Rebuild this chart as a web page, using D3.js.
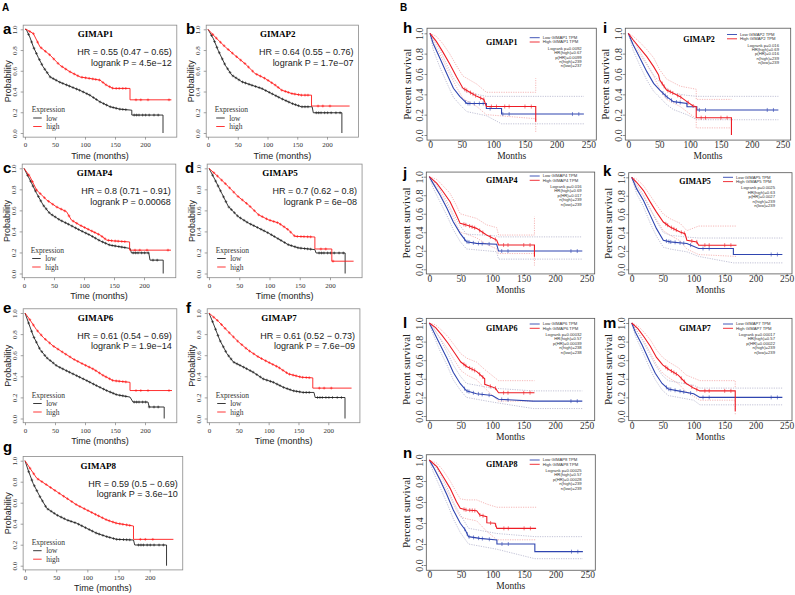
<!DOCTYPE html>
<html><head><meta charset="utf-8">
<script src="https://cdn.jsdelivr.net/npm/d3@7"></script>
<style>body{margin:0;background:#fff}</style>
</head><body>
<svg id="c" width="795" height="595"></svg>
<script>
// ================= DATA =================
// KM-plotter panels (a-g)
const kmLetters = ["a","b","c","d","e","f","g"];
const kmGenes = ["GIMAP1","GIMAP2","GIMAP4","GIMAP5","GIMAP6","GIMAP7","GIMAP8"];
const kmHR = ["HR = 0.55 (0.47 \u2212 0.65)","HR = 0.64 (0.55 \u2212 0.76)","HR = 0.8 (0.71 \u2212 0.91)","HR = 0.7 (0.62 \u2212 0.8)","HR = 0.61 (0.54 \u2212 0.69)","HR = 0.61 (0.52 \u2212 0.73)","HR = 0.59 (0.5 \u2212 0.69)"];
const kmLogrank = ["logrank P = 4.5e\u221212","logrank P = 1.7e\u221207","logrank P = 0.00068","logrank P = 6e\u221208","logrank P = 1.9e\u221214","logrank P = 7.6e\u221209","logrank P = 3.6e\u221210"];
const kmXTicks = [0,50,100,150,200];
const kmYTicks = [0,0.2,0.4,0.6,0.8,1.0];

// [months, survival]
const aHigh = [[0,1],[2,1],[14,0.958],[25,0.83],[42,0.75],[58,0.654],[75,0.59],[92,0.54],[108,0.526],[125,0.51],[136,0.46],[147,0.43],[175,0.43],[175,0.32],[244,0.32]];
const aLow  = [[0,1],[2,1],[8,0.926],[14,0.83],[22,0.73],[30,0.64],[42,0.54],[58,0.49],[75,0.45],[92,0.41],[108,0.365],[125,0.30],[142,0.253],[158,0.23],[178,0.22],[178,0.173],[230,0.173],[230,0]];
const bHigh = [[0,1],[12,0.926],[29,0.83],[45,0.75],[62,0.67],[79,0.574],[96,0.526],[113,0.462],[124,0.413],[141,0.38],[157,0.365],[174,0.365],[174,0.26],[238,0.26]];
const bLow  = [[0,1],[9,0.91],[17,0.798],[29,0.654],[40,0.558],[57,0.494],[73,0.462],[90,0.43],[107,0.38],[124,0.33],[141,0.285],[157,0.253],[175,0.253],[177,0.195],[225,0.195],[225,0]];
const cHigh = [[0,1],[10,0.92],[21,0.793],[38,0.698],[54,0.634],[71,0.587],[79,0.508],[93,0.46],[110,0.412],[127,0.365],[138,0.317],[149,0.31],[176,0.30],[176,0.222],[245,0.222]];
const cLow  = [[0,1],[10,0.889],[21,0.762],[32,0.65],[43,0.571],[60,0.508],[77,0.46],[93,0.412],[110,0.365],[127,0.31],[143,0.27],[160,0.254],[177,0.238],[179,0.196],[208,0.196],[210,0.127],[232,0.127],[232,0]];
const dHigh = [[0,1],[15,0.921],[32,0.826],[48,0.732],[65,0.653],[82,0.558],[98,0.511],[115,0.48],[131,0.416],[142,0.353],[175,0.347],[175,0.233],[203,0.233],[203,0.117],[239,0.117]];
const dLow  = [[0,1],[10,0.89],[21,0.763],[32,0.637],[48,0.542],[65,0.48],[82,0.432],[98,0.385],[115,0.328],[131,0.274],[148,0.243],[175,0.227],[177,0.195],[225,0.195],[225,0]];
const eHigh = [[0,1],[8,0.937],[19,0.843],[31,0.765],[47,0.687],[64,0.624],[81,0.562],[97,0.515],[114,0.468],[131,0.406],[147,0.359],[175,0.343],[175,0.265],[245,0.265]];
const eLow  = [[0,1],[6,0.905],[14,0.78],[25,0.655],[36,0.577],[53,0.499],[69,0.453],[86,0.406],[103,0.359],[119,0.312],[136,0.265],[153,0.225],[175,0.203],[180,0.156],[205,0.156],[207,0.109],[232,0.109],[232,0]];
const fHigh = [[0,1],[16,0.92],[32,0.824],[49,0.728],[66,0.647],[83,0.583],[99,0.535],[116,0.487],[133,0.423],[155,0.391],[174,0.385],[174,0.288],[239,0.288]];
const fLow  = [[0,1],[7,0.904],[18,0.744],[30,0.615],[41,0.535],[58,0.487],[74,0.439],[91,0.375],[108,0.343],[125,0.295],[141,0.263],[158,0.247],[176,0.247],[178,0.199],[228,0.199],[228,0]];
const gHigh = [[0,1],[8,0.928],[19,0.832],[35,0.769],[51,0.705],[67,0.642],[83,0.579],[99,0.531],[115,0.483],[131,0.436],[147,0.404],[174,0.378],[174,0.251],[238,0.251]];
const gLow  = [[0,1],[5,0.911],[13,0.784],[24,0.657],[35,0.546],[51,0.483],[67,0.436],[83,0.404],[99,0.356],[115,0.309],[131,0.277],[147,0.251],[174,0.245],[176,0.197],[227,0.197],[227,0]];
const kmHighCurves = [aHigh,bHigh,cHigh,dHigh,eHigh,fHigh,gHigh];
const kmLowCurves  = [aLow,bLow,cLow,dLow,eLow,fLow,gLow];
const kmCensorHigh = [8,14,21,27,34,41,48,55,62,68,75,82,88,95,101,107,113,118,124,130,135,141,146,152,157,163,168,185,193,205,240];
const kmCensorLow  = [6,11,15,19,24,28,33,37,42,47,52,58,63,69,74,80,86,91,97,103,108,114,119,125,131,136,142,147,152,158,163,168,182,186,190,196,201,207,215,222];

// GEPIA panels (h-n)
const gpLetters = ["h","i","j","k","l","m","n"];
const gpGenes = ["GIMAP1","GIMAP2","GIMAP4","GIMAP5","GIMAP6","GIMAP7","GIMAP8"];
const gpLogrank = ["0.0092","0.016","0.016","0.0025","0.00032","0.00017","0.00025"];
const gpHR = ["0.67","0.69","0.69","0.63","0.57","0.57","0.57"];
const gpPHR = ["0.0099","0.016","0.017","0.0027","0.00039","0.00022","0.00028"];
const gpNHigh = ["239","239","239","239","238","239","239"];
const gpNLow = ["237","239","239","239","238","239","239"];
const gpXTicks = [0,50,100,150,200,250];
const gpYTicks = [0,0.2,0.4,0.6,0.8,1.0];

const hHigh = [[0,1],[10,0.92],[20,0.82],[31,0.70],[42,0.57],[52,0.46],[63,0.42],[74,0.38],[85,0.35],[89,0.28],[167,0.28],[167,0.13]];
const hLow  = [[0,1],[5,0.9],[16,0.75],[26,0.61],[37,0.46],[47,0.38],[55,0.33],[58,0.31],[89,0.31],[89,0.26],[113,0.26],[113,0.206],[243,0.206]];
const hHighU = [[0,1],[10,0.97],[20,0.9],[31,0.8],[42,0.68],[52,0.58],[63,0.54],[74,0.5],[89,0.42],[167,0.42],[167,0.56]];
const hHighL = [[0,1],[10,0.86],[20,0.74],[31,0.6],[42,0.47],[52,0.36],[63,0.32],[74,0.28],[89,0.2],[167,0.16],[167,0.03]];
const hLowU = [[0,1],[5,0.95],[16,0.83],[26,0.7],[37,0.56],[47,0.48],[58,0.42],[89,0.38],[113,0.38],[243,0.38]];
const hLowL = [[0,1],[5,0.84],[16,0.66],[26,0.52],[37,0.37],[47,0.3],[58,0.23],[89,0.19],[113,0.11],[243,0.11]];

const iHigh = [[0,1],[8,0.934],[19,0.852],[30,0.77],[41,0.672],[49,0.59],[51,0.541],[62,0.442],[73,0.41],[84,0.377],[95,0.328],[105,0.285],[110,0.278],[110,0.17],[167,0.17],[167,0]];
const iLow  = [[0,1],[8,0.885],[19,0.754],[30,0.623],[41,0.508],[51,0.442],[62,0.377],[73,0.328],[95,0.311],[95,0.278],[111,0.278],[111,0.246],[243,0.246]];
const iHighU = [[0,1],[8,0.97],[19,0.91],[30,0.84],[41,0.76],[51,0.64],[62,0.55],[84,0.48],[110,0.45],[110,0.35],[167,0.35]];
const iHighL = [[0,1],[8,0.89],[19,0.79],[30,0.69],[41,0.58],[51,0.45],[62,0.35],[84,0.28],[110,0.16],[110,0.07],[167,0.07]];
const iLowU = [[0,1],[8,0.93],[19,0.82],[30,0.7],[41,0.59],[51,0.52],[62,0.46],[73,0.41],[95,0.39],[111,0.38],[243,0.38]];
const iLowL = [[0,1],[8,0.83],[19,0.68],[30,0.54],[41,0.43],[51,0.37],[62,0.3],[73,0.25],[95,0.2],[111,0.15],[243,0.15]];

const jHigh = [[0,1],[12,0.928],[22,0.838],[33,0.73],[43,0.586],[49,0.496],[59,0.478],[75,0.442],[91,0.37],[107,0.316],[110,0.262],[167,0.262],[167,0.136]];
const jLow  = [[0,1],[6,0.928],[17,0.802],[28,0.658],[38,0.514],[49,0.388],[59,0.298],[75,0.28],[107,0.27],[110,0.197],[243,0.197]];
const jHighU = [[0,1],[12,0.97],[22,0.9],[33,0.82],[43,0.69],[49,0.6],[59,0.58],[75,0.55],[91,0.48],[107,0.45],[110,0.37],[167,0.37],[167,0.57]];
const jHighL = [[0,1],[12,0.88],[22,0.77],[33,0.64],[43,0.49],[49,0.4],[59,0.38],[75,0.34],[91,0.27],[107,0.22],[110,0.17],[167,0.17],[167,0.04]];
const jLowU = [[0,1],[6,0.96],[17,0.86],[28,0.73],[38,0.6],[49,0.47],[59,0.38],[107,0.36],[110,0.35],[243,0.35]];
const jLowL = [[0,1],[6,0.88],[17,0.73],[28,0.58],[38,0.43],[49,0.3],[59,0.22],[107,0.19],[110,0.11],[243,0.11]];

const kHigh = [[0,1],[8,0.946],[19,0.856],[30,0.73],[40,0.622],[51,0.514],[62,0.46],[78,0.406],[86,0.388],[89,0.316],[105,0.298],[108,0.262],[169,0.262]];
const kLow  = [[0,1],[8,0.874],[19,0.748],[30,0.586],[40,0.442],[51,0.316],[62,0.298],[89,0.28],[108,0.226],[164,0.226],[164,0.161],[243,0.161]];
const kHighU = [[0,1],[8,0.98],[19,0.91],[30,0.8],[40,0.7],[51,0.6],[62,0.55],[78,0.5],[89,0.42],[108,0.47],[169,0.47]];
const kHighL = [[0,1],[8,0.9],[19,0.79],[30,0.65],[40,0.54],[51,0.42],[62,0.37],[78,0.31],[89,0.22],[108,0.16],[169,0.14]];
const kLowU = [[0,1],[8,0.92],[19,0.81],[30,0.66],[40,0.52],[51,0.4],[62,0.37],[89,0.35],[108,0.34],[243,0.34]];
const kLowL = [[0,1],[8,0.82],[19,0.68],[30,0.5],[40,0.36],[51,0.24],[62,0.22],[89,0.19],[108,0.14],[164,0.07],[243,0.07]];

const lHigh = [[0,1],[10,0.95],[20,0.87],[30,0.78],[40,0.68],[50,0.58],[60,0.53],[75,0.48],[88,0.4],[88,0.34],[105,0.3],[110,0.25],[167,0.25]];
const lLow  = [[0,1],[6,0.92],[17,0.77],[28,0.62],[38,0.47],[49,0.35],[59,0.27],[75,0.24],[100,0.22],[110,0.18],[165,0.16],[243,0.16]];
const lHighU = [[0,1],[10,0.98],[20,0.92],[30,0.85],[40,0.76],[50,0.67],[60,0.62],[75,0.58],[88,0.5],[110,0.38],[167,0.38]];
const lHighL = [[0,1],[10,0.91],[20,0.81],[30,0.71],[40,0.6],[50,0.49],[60,0.44],[75,0.39],[88,0.3],[110,0.16],[167,0.16]];
const lLowU = [[0,1],[6,0.96],[17,0.83],[28,0.69],[38,0.55],[49,0.43],[59,0.35],[100,0.3],[165,0.27],[243,0.27]];
const lLowL = [[0,1],[6,0.88],[17,0.7],[28,0.55],[38,0.39],[49,0.28],[59,0.2],[100,0.15],[165,0.08],[243,0.08]];

const mHigh = [[0,1],[10,0.94],[20,0.85],[30,0.75],[40,0.63],[50,0.55],[60,0.5],[75,0.44],[88,0.35],[100,0.3],[110,0.27],[167,0.27],[167,0.05]];
const mLow  = [[0,1],[6,0.9],[17,0.76],[28,0.6],[38,0.46],[49,0.35],[59,0.29],[75,0.27],[100,0.24],[110,0.2],[243,0.2]];
const mHighU = [[0,1],[10,0.97],[20,0.9],[30,0.82],[40,0.71],[50,0.63],[60,0.58],[75,0.52],[88,0.44],[110,0.38],[167,0.38],[167,0.3]];
const mHighL = [[0,1],[10,0.9],[20,0.8],[30,0.68],[40,0.55],[50,0.46],[60,0.41],[75,0.35],[88,0.26],[110,0.17],[167,0.17],[167,0.01]];
const mLowU = [[0,1],[6,0.94],[17,0.82],[28,0.68],[38,0.55],[49,0.44],[59,0.38],[100,0.33],[110,0.3],[243,0.3]];
const mLowL = [[0,1],[6,0.86],[17,0.7],[28,0.53],[38,0.39],[49,0.28],[59,0.22],[100,0.17],[110,0.12],[243,0.12]];

const nHigh = [[0,1],[12,0.937],[22,0.841],[33,0.73],[43,0.603],[49,0.54],[59,0.524],[75,0.517],[80,0.476],[91,0.46],[91,0.403],[104,0.397],[107,0.349],[169,0.349]];
const nLow  = [[0,1],[6,0.937],[17,0.81],[28,0.667],[38,0.524],[49,0.397],[57,0.333],[62,0.27],[80,0.254],[107,0.238],[107,0.2],[167,0.2],[167,0.127],[243,0.127]];
const nHighU = [[0,1],[12,0.97],[22,0.9],[33,0.8],[43,0.69],[49,0.63],[59,0.62],[75,0.62],[91,0.58],[107,0.55],[169,0.55]];
const nHighL = [[0,1],[12,0.88],[22,0.77],[33,0.65],[43,0.52],[49,0.46],[59,0.44],[75,0.42],[91,0.32],[107,0.24],[169,0.24]];
const nLowU = [[0,1],[6,0.97],[17,0.87],[28,0.74],[38,0.6],[49,0.48],[62,0.35],[107,0.3],[167,0.27],[243,0.27]];
const nLowL = [[0,1],[6,0.89],[17,0.74],[28,0.59],[38,0.44],[49,0.31],[62,0.2],[107,0.15],[167,0.06],[243,0.06]];

const gpHighCurves = [hHigh,iHigh,jHigh,kHigh,lHigh,mHigh,nHigh];
const gpLowCurves  = [hLow,iLow,jLow,kLow,lLow,mLow,nLow];
const gpHighUpper = [hHighU,iHighU,jHighU,kHighU,lHighU,mHighU,nHighU];
const gpHighLower = [hHighL,iHighL,jHighL,kHighL,lHighL,mHighL,nHighL];
const gpLowUpper  = [hLowU,iLowU,jLowU,kLowU,lLowU,mLowU,nLowU];
const gpLowLower  = [hLowL,iLowL,jLowL,kLowL,lLowL,mLowL,nLowL];
const gpCensorHigh = [55,58,64,68,72,80,85,97,105,118,125,150,160];
const gpCensorLow  = [56,60,63,70,78,84,95,115,125,225,235,242];

// ================= LAYOUT =================
const kmLayout = [
  {x0:25, x200:145, y1:29.3, y0:133, lx:3, ly:34},
  {x0:208, x200:327, y1:29.3, y0:133, lx:186, ly:34},
  {x0:24, x200:144, y1:168.3, y0:273.5, lx:3, ly:173},
  {x0:209, x200:330, y1:168.3, y0:273.5, lx:185, ly:173},
  {x0:25, x200:145, y1:313, y0:418.5, lx:3, ly:313},
  {x0:209, x200:328.3, y1:313, y0:418.5, lx:186, ly:313},
  {x0:25, x200:149.7, y1:460.7, y0:565.7, lx:3, ly:452}
];
const gpLayout = [
  {x0:430, x250:588.3, y1:33.3, y0:135, lx:403, ly:33, legR:581.7, legY:37.7},
  {x0:628.3, x250:782.7, y1:33.3, y0:135, lx:603, ly:33, legR:779, legY:34.5},
  {x0:429.3, x250:586.7, y1:176.7, y0:269.3, lx:403, ly:178, legR:581.7, legY:176},
  {x0:631.7, x250:786.7, y1:177.3, y0:269.3, lx:603, ly:176, legR:775, legY:177.3},
  {x0:429.3, x250:586.7, y1:323, y0:416, lx:403, ly:328, legR:581.7, legY:324},
  {x0:631.7, x250:786.7, y1:323, y0:416, lx:603, ly:328, legR:775, legY:324},
  {x0:429.3, x250:587.3, y1:460, y0:565, lx:403, ly:458, legR:581.7, legY:460}
];

const SANS = "'Liberation Sans', Arial, sans-serif";
const SERIF = "'Liberation Serif', 'Times New Roman', serif";
const svg = d3.select("#c");

function survAt(curve, t){
  for (let i=0;i<curve.length-1;i++){
    const a=curve[i], b=curve[i+1];
    if (t>=a[0] && t<=b[0] && b[0]>a[0]) return a[1]+(b[1]-a[1])*(t-a[0])/(b[0]-a[0]);
  }
  return curve[curve.length-1][1];
}

svg.append("text").attr("x",2).attr("y",11).text("A").attr("font-family",SANS).attr("font-weight","bold").attr("font-size",10);
svg.append("text").attr("x",400).attr("y",11).text("B").attr("font-family",SANS).attr("font-weight","bold").attr("font-size",10);

// ---------- KM plotter panels ----------
kmLayout.forEach((L,i)=>{
  const x = d3.scaleLinear().domain([0,200]).range([L.x0,L.x200]);
  const y = d3.scaleLinear().domain([0,1]).range([L.y0,L.y1]);
  const g = svg.append("g");
  const bl=x(-3), br=x(253), bt=y(1.04), bb=y(-0.04);
  g.append("rect").attr("x",bl).attr("y",bt).attr("width",br-bl).attr("height",bb-bt)
    .attr("fill","none").attr("stroke","#8a8a8a").attr("stroke-width",0.8);
  const ya = g.append("g").attr("transform",`translate(${bl},0)`)
    .call(d3.axisLeft(y).tickValues(kmYTicks).tickSize(2.5).tickFormat(d3.format(".1f")));
  ya.select(".domain").remove();
  ya.selectAll("line").attr("stroke","#666").attr("stroke-width",0.6);
  ya.selectAll("text").attr("x",null).attr("dy",null).attr("text-anchor","middle")
    .attr("transform",`translate(${-8.5+2.4},0) rotate(-90)`)
    .attr("font-family",SERIF).attr("font-size",7).attr("fill","#333");
  const xa = g.append("g").attr("transform",`translate(0,${bb})`)
    .call(d3.axisBottom(x).tickValues(kmXTicks).tickSize(2.5).tickFormat(d3.format("d")));
  xa.select(".domain").remove();
  xa.selectAll("line").attr("stroke","#666").attr("stroke-width",0.6);
  xa.selectAll("text").attr("y",5).attr("dy","0.71em").attr("font-family",SERIF).attr("font-size",7).attr("fill","#333");
  g.append("text").attr("transform",`translate(${bl-12.5},${(bt+bb)/2}) rotate(-90)`).attr("text-anchor","middle")
    .attr("font-family",SANS).attr("font-size",9).attr("fill","#222").text("Probability");
  g.append("text").attr("x",(bl+br)/2).attr("y",bb+21.5).attr("text-anchor","middle")
    .attr("font-family",SANS).attr("font-size",9).attr("fill","#222").text("Time (months)");
  g.append("text").attr("x",bl+(br-bl)*0.47).attr("y",L.y1+8).attr("text-anchor","middle")
    .attr("font-family",SERIF).attr("font-weight","bold").attr("font-size",9).text(kmGenes[i]);
  g.append("text").attr("x",br-5).attr("y",L.y1+26).attr("text-anchor","end")
    .attr("font-family",SANS).attr("font-size",9).attr("fill","#222").text(kmHR[i]);
  g.append("text").attr("x",br-5).attr("y",L.y1+36.3).attr("text-anchor","end")
    .attr("font-family",SANS).attr("font-size",9).attr("fill","#222").text(kmLogrank[i]);
  // legend
  g.append("text").attr("x",bl+8.5).attr("y",L.y0-21).attr("font-family",SERIF).attr("font-size",7.5).attr("fill","#333").text("Expression");
  [["low","#222",-15],["high","#ff2020",-6.5]].forEach(([lab,col,dy])=>{
    g.append("line").attr("x1",bl+10).attr("x2",bl+18.5).attr("y1",L.y0+dy).attr("y2",L.y0+dy).attr("stroke",col).attr("stroke-width",0.9);
    g.append("text").attr("x",bl+23).attr("y",L.y0+dy+2.5).attr("font-family",SERIF).attr("font-size",7.5).attr("fill","#333").text(lab);
  });
  g.append("text").attr("x",L.lx).attr("y",L.ly).attr("font-family",SANS).attr("font-weight","bold").attr("font-size",15).text(kmLetters[i]);
  const line = d3.line().x(d=>x(d[0])).y(d=>y(d[1]));
  [[kmLowCurves[i],"#222",kmCensorLow],[kmHighCurves[i],"#ff1a1a",kmCensorHigh]].forEach(([cv,col,cens])=>{
    g.append("path").attr("d",line(cv)).attr("fill","none").attr("stroke",col).attr("stroke-width",0.9);
    const tEnd = d3.max(cv,d=>d[0]);
    const marks = cens.filter(t=>t<tEnd-1);
    g.append("path").attr("d",marks.map(t=>{const px=x(t),py=y(survAt(cv,t));return `M${px-1.4},${py}h2.8M${px},${py-1.4}v2.8`;}).join(""))
      .attr("stroke",col).attr("stroke-width",0.6).attr("fill","none");
  });
});

// ---------- GEPIA panels ----------
gpLayout.forEach((L,i)=>{
  const x = d3.scaleLinear().domain([0,250]).range([L.x0,L.x250]);
  const y = d3.scaleLinear().domain([0,1]).range([L.y0,L.y1]);
  const g = svg.append("g");
  const h = L.y0-L.y1;
  const bl=x(0)-3, br=Math.min(x(250)+8,792), bt=L.y1-0.05*h, bb=L.y0+0.05*h;
  g.append("rect").attr("x",bl).attr("y",bt).attr("width",br-bl).attr("height",bb-bt)
    .attr("fill","none").attr("stroke","#555").attr("stroke-width",0.8);
  const ya = g.append("g").attr("transform",`translate(${bl},0)`)
    .call(d3.axisLeft(y).tickValues(gpYTicks).tickSize(2.5).tickFormat(d3.format(".1f")));
  ya.select(".domain").remove();
  ya.selectAll("line").attr("stroke","#444").attr("stroke-width",0.6);
  ya.selectAll("text").attr("x",null).attr("dy",null).attr("text-anchor","middle")
    .attr("transform",`translate(${-7+3.4},0) rotate(-90)`)
    .attr("font-family",SERIF).attr("font-size",10).attr("fill","#333");
  const xa = g.append("g").attr("transform",`translate(0,${bb})`)
    .call(d3.axisBottom(x).tickValues(gpXTicks).tickSize(2.5).tickFormat(d3.format("d")));
  xa.select(".domain").remove();
  xa.selectAll("line").attr("stroke","#444").attr("stroke-width",0.6);
  xa.selectAll("text").attr("y",1.5).attr("dy","0.71em").attr("font-family",SERIF).attr("font-size",9.5).attr("fill","#333");
  g.append("text").attr("transform",`translate(${bl-16.5},${(bt+bb)/2}) rotate(-90)`).attr("text-anchor","middle")
    .attr("font-family",SERIF).attr("font-size",11).attr("fill","#222").text("Percent survival");
  g.append("text").attr("x",(bl+br)/2).attr("y",bb+19).attr("text-anchor","middle")
    .attr("font-family",SERIF).attr("font-size",9.5).attr("fill","#222").text("Months");
  g.append("text").attr("x",L.lx).attr("y",L.ly).attr("font-family",SANS).attr("font-weight","bold").attr("font-size",15).text(gpLetters[i]);
  const line = d3.line().x(d=>x(d[0])).y(d=>y(d[1]));
  // confidence intervals
  [[gpHighUpper[i],"#f19a9a"],[gpHighLower[i],"#f19a9a"],[gpLowUpper[i],"#a8a8c4"],[gpLowLower[i],"#a8a8c4"]].forEach(([cv,col])=>{
    g.append("path").attr("d",line(cv)).attr("fill","none").attr("stroke",col).attr("stroke-width",0.7).attr("stroke-dasharray","1.2,1.2");
  });
  [[gpLowCurves[i],"#2f45b0",gpCensorLow],[gpHighCurves[i],"#ee1c25",gpCensorHigh]].forEach(([cv,col,cens])=>{
    g.append("path").attr("d",line(cv)).attr("fill","none").attr("stroke",col).attr("stroke-width",1.1);
    const tEnd = d3.max(cv,d=>d[0]);
    const marks = cens.filter(t=>t<tEnd-1);
    g.append("path").attr("d",marks.map(t=>{const px=x(t),py=y(survAt(cv,t));return `M${px},${py-2}v4`;}).join(""))
      .attr("stroke",col).attr("stroke-width",0.6).attr("fill","none");
  });
  // legend
  const R=L.legR, Y0=L.legY;
  g.append("text").attr("x",R-80).attr("y",Y0+7).attr("text-anchor","middle").attr("font-family",SERIF)
    .attr("font-weight","bold").attr("font-size",8).text(gpGenes[i]);
  [["Low "+gpGenes[i]+" TPM","#2f45b0",0],["High "+gpGenes[i]+" TPM","#ee1c25",4.3]].forEach(([lab,col,dy])=>{
    g.append("line").attr("x1",R-52).attr("x2",R-42).attr("y1",Y0+dy).attr("y2",Y0+dy).attr("stroke",col).attr("stroke-width",0.9);
    g.append("text").attr("x",R-39).attr("y",Y0+dy+1.4).attr("font-family",SANS).attr("font-size",4.2).attr("fill","#333").text(lab);
  });
  const stats = ["Logrank p="+gpLogrank[i],"HR(high)="+gpHR[i],"p(HR)="+gpPHR[i],"n(high)="+gpNHigh[i],"n(low)="+gpNLow[i]];
  stats.forEach((s,k)=>{
    g.append("text").attr("x",R).attr("y",Y0+12+k*4.4).attr("text-anchor","end").attr("font-family",SANS)
      .attr("font-size",4.2).attr("fill","#333").text(s);
  });
});
</script>
</body></html>
